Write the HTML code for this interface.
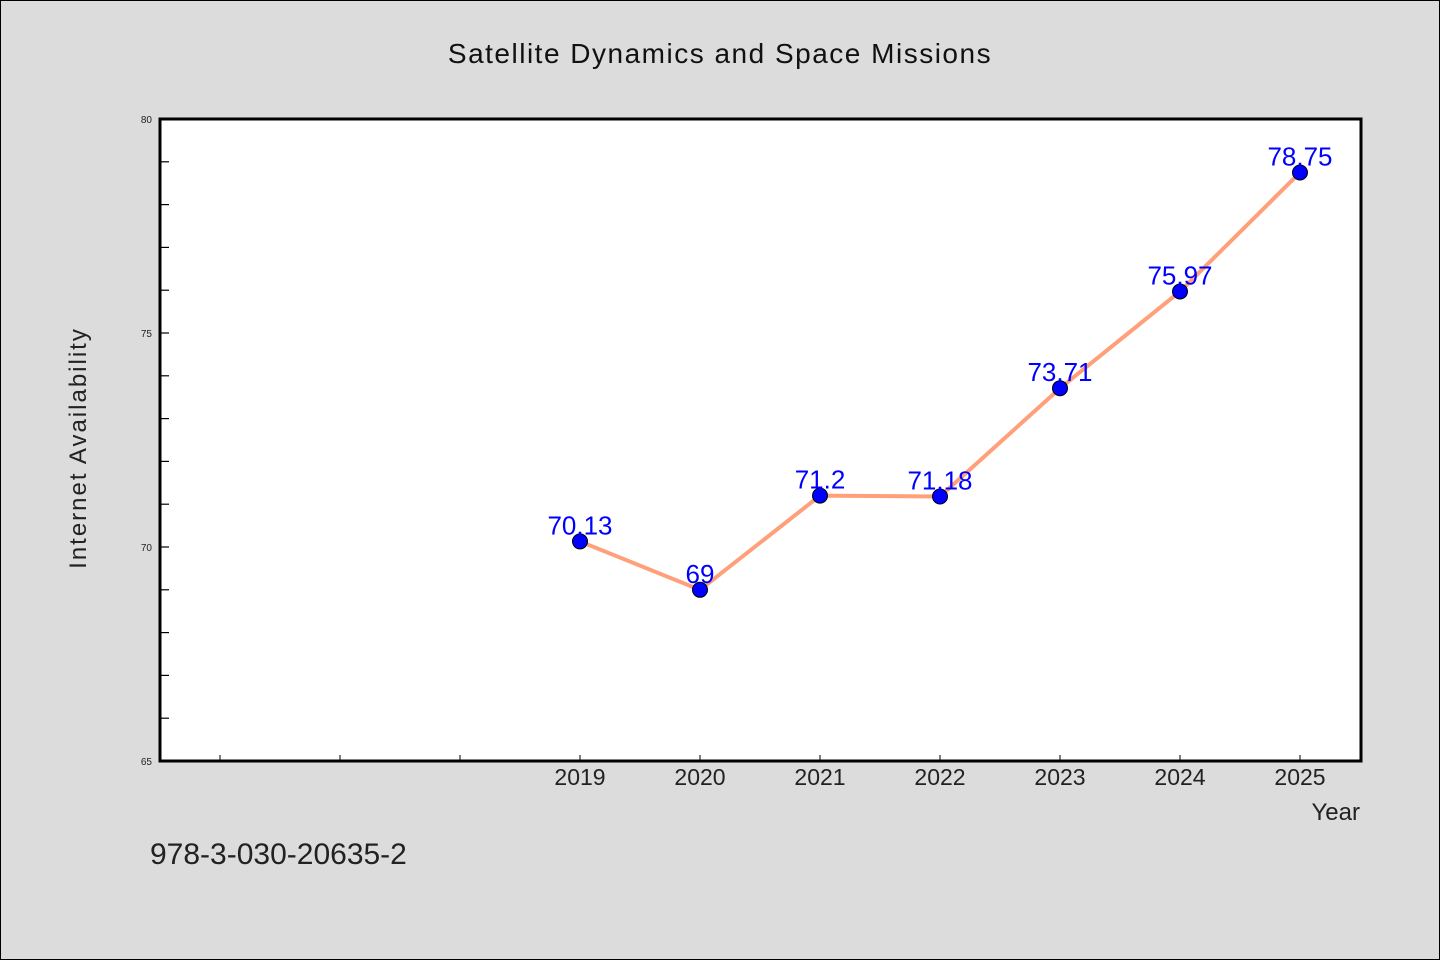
<!DOCTYPE html>
<html><head><meta charset="utf-8"><style>
body{margin:0;background:#dcdcdc;}
svg{display:block;font-family:"WenQuanYi Zen Hei","Liberation Sans",sans-serif;}
</style></head><body>
<svg id="chart" width="1440" height="960" viewBox="0 0 1440 960">
<rect x="0.5" y="0.5" width="1439" height="959" fill="#dcdcdc" stroke="#000"/>
<text x="720" y="63" text-anchor="middle" font-size="28" fill="#111" letter-spacing="1.5">Satellite Dynamics and Space Missions</text>
<rect x="160" y="119" width="1201" height="642" fill="#fff"/>
<g id="yticks"></g><g id="xticks"></g>
<rect x="160" y="119" width="1201" height="642" fill="none" stroke="#000" stroke-width="3"/>
<g id="series"></g>
<text x="86" y="448" transform="rotate(-90 86 448)" text-anchor="middle" font-size="24" fill="#222" letter-spacing="2">Internet Availability</text>
<text x="1360" y="820" text-anchor="end" font-size="24" fill="#222">Year</text>
<text x="150" y="864" font-size="30" fill="#222">978-3-030-20635-2</text>
</svg>
<script>
const years=[2019,2020,2021,2022,2023,2024,2025];
const values=[70.13,69,71.2,71.18,73.71,75.97,78.75];
const labels=["70.13","69","71.2","71.18","73.71","75.97","78.75"];
const yTickLabels=[65,70,75,80];
const NS="http://www.w3.org/2000/svg";
const x=v=>160+(v-2015.5)*120;
const y=v=>761-(v-65)*(642/15);
function mk(t,a,p){const e=document.createElementNS(NS,t);for(const k in a)e.setAttribute(k,a[k]);p.appendChild(e);return e;}
const yt=document.getElementById('yticks');
for(let v=66;v<80;v++){const l=mk('line',{x1:160,x2:169,y1:y(v),y2:y(v),stroke:'#000','stroke-width':1.2},yt);

}
yTickLabels.forEach(v=>{const t=mk('text',{x:152,y:y(v)+4,'text-anchor':'end','font-size':10,fill:'#222'},yt);t.textContent=v;

});
const xt=document.getElementById('xticks');
for(let v=2016;v<=2025;v++){const l=mk('line',{x1:x(v),x2:x(v),y1:755,y2:761,stroke:'#000','stroke-width':1},xt);

}
years.forEach(v=>{const t=mk('text',{x:x(v),y:785,'text-anchor':'middle','font-size':23,fill:'#222'},xt);t.textContent=v;

});
const s=document.getElementById('series');
const pl=mk('polyline',{points:years.map((yr,i)=>x(yr)+','+y(values[i])).join(' '),fill:'none',stroke:'#ffa07a','stroke-width':4},s);


years.forEach((yr,i)=>{const c=mk('circle',{cx:x(yr),cy:y(values[i]),r:7.5,fill:'#0000ff',stroke:'#000','stroke-width':1},s);


const t=mk('text',{x:x(yr),y:y(values[i])-7,'text-anchor':'middle','font-size':26,fill:'#0000ff'},s);t.textContent=labels[i];

});
</script>
</body></html>
